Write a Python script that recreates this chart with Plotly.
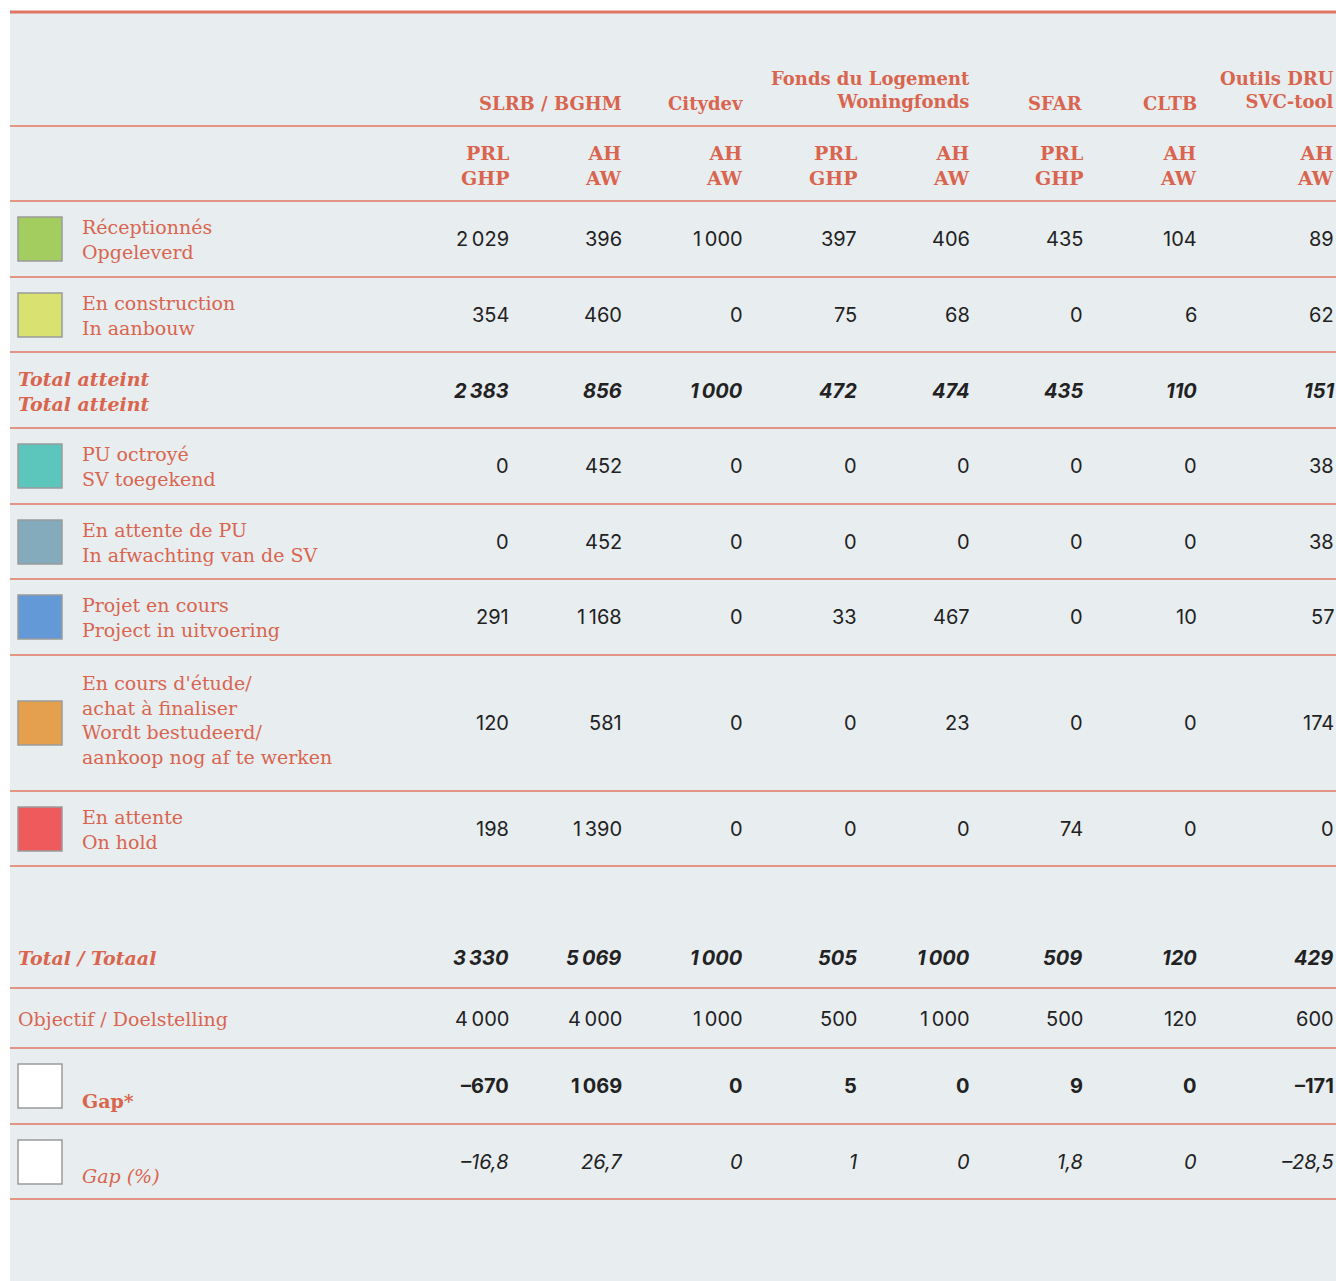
import plotly.graph_objects as go

# ---------------- data ----------------
group_labels = ["SLRB / BGHM", "Citydev", "Fonds du Logement<br>Woningfonds", "SFAR", "CLTB", "Outils DRU<br>SVC-tool"]
group_last_col = [1, 2, 4, 5, 6, 7]  # index of the right-most sub column of each group
sub_labels = ["PRL<br>GHP", "AH<br>AW", "AH<br>AW", "PRL<br>GHP", "AH<br>AW", "PRL<br>GHP", "AH<br>AW", "AH<br>AW"]

receptionnes = [2029, 396, 1000, 397, 406, 435, 104, 89]
construction = [354, 460, 0, 75, 68, 0, 6, 62]
total_atteint = [2383, 856, 1000, 472, 474, 435, 110, 151]
pu_octroye = [0, 452, 0, 0, 0, 0, 0, 38]
attente_pu = [0, 452, 0, 0, 0, 0, 0, 38]
projet_cours = [291, 1168, 0, 33, 467, 0, 10, 57]
etude = [120, 581, 0, 0, 23, 0, 0, 174]
on_hold = [198, 1390, 0, 0, 0, 74, 0, 0]
total = [3330, 5069, 1000, 505, 1000, 509, 120, 429]
objectif = [4000, 4000, 1000, 500, 1000, 500, 120, 600]
gap = [-670, 1069, 0, 5, 0, 9, 0, -171]
gap_pct = [-16.8, 26.7, 0, 1, 0, 1.8, 0, -28.5]

row_labels = [
    "Réceptionnés<br>Opgeleverd",
    "En construction<br>In aanbouw",
    "Total atteint<br>Total atteint",
    "PU octroyé<br>SV toegekend",
    "En attente de PU<br>In afwachting van de SV",
    "Projet en cours<br>Project in uitvoering",
    "En cours d'étude/<br>achat à finaliser<br>Wordt bestudeerd/<br>aankoop nog af te werken",
    "En attente<br>On hold",
    "Total / Totaal",
    "Objectif / Doelstelling",
    "Gap*",
    "Gap (%)",
]
row_values = [receptionnes, construction, total_atteint, pu_octroye, attente_pu,
              projet_cours, etude, on_hold, total, objectif, gap, gap_pct]
row_kind = ["plain", "plain", "total", "plain", "plain", "plain", "plain", "plain",
            "total", "obj", "gap", "gappct"]
row_swatch = ["#a3cd5e", "#d9e270", None, "#5cc5bc", "#83abbb", "#6399d6", "#e4a04d",
              "#ef5a5c", None, None, "#ffffff", "#ffffff"]

# ---------------- layout constants ----------------
W, H = 1336, 1281
ACCENT = "#d9654f"
LINE = "#e07662"
NUM = "#222222"
BG = "#e8edf0"
SERIF = "DejaVu Serif"
SANS = "Inter"

col_x = [511, 624, 745, 859, 972, 1085, 1199, 1336]
row_y = [239, 315, 391, 466, 542, 617, 723, 829, 958, 1019, 1086, 1162]
label_y = [239, 315, 391, 466, 542, 617, 720, 829, 958, 1019, 1101, 1176]
hlines = [126, 201, 277, 352, 428, 504, 579, 655, 791, 866, 988, 1048, 1124, 1199]


def fmt_int(v):
    s = f"{abs(int(v)):,}".replace(",", "\u2009")
    return ("–" if v < 0 else "") + s


def fmt_pct(v):
    s = f"{abs(v):g}".replace(".", ",")
    return ("–" if v < 0 else "") + s


fig = go.Figure()
shapes = []
annotations = []

# background panel
shapes.append(dict(type="rect", xref="x", yref="y", x0=10, x1=W, y0=12, y1=H,
                   fillcolor=BG, line=dict(width=0), layer="below"))
# top rule
shapes.append(dict(type="line", xref="x", yref="y", x0=10, x1=W, y0=12, y1=12,
                   line=dict(color=LINE, width=3)))
for y in hlines:
    shapes.append(dict(type="line", xref="x", yref="y", x0=10, x1=W, y0=y, y1=y,
                       line=dict(color=LINE, width=1.5)))

# group headers
for lab, ci in zip(group_labels, group_last_col):
    two = "<br>" in lab
    annotations.append(dict(x=col_x[ci], y=90 if two else 103, xref="x", yref="y",
                            text=f"<b>{lab}</b>", showarrow=False, xanchor="right",
                            yanchor="middle", align="right",
                            font=dict(family=SERIF, size=18, color=ACCENT)))
# sub headers
for lab, x in zip(sub_labels, col_x):
    annotations.append(dict(x=x, y=165, xref="x", yref="y", text=f"<b>{lab}</b>",
                            showarrow=False, xanchor="right", yanchor="middle", align="right",
                            font=dict(family=SERIF, size=19, color=ACCENT)))

# rows
for lab, vals, kind, sw, yv, yl in zip(row_labels, row_values, row_kind, row_swatch, row_y, label_y):
    if sw is not None:
        sy = yv
        shapes.append(dict(type="rect", xref="x", yref="y", x0=18, x1=62, y0=sy - 22, y1=sy + 22,
                           fillcolor=sw, line=dict(color="#9a9a9a", width=1.5)))
        lx = 80
    else:
        lx = 16
    if kind == "total":
        ltxt = f"<b><i>{lab}</i></b>"
    elif kind == "gap":
        ltxt = f"<b>{lab}</b>"
    elif kind == "gappct":
        ltxt = f"<i>{lab}</i>"
    else:
        ltxt = lab
    annotations.append(dict(x=lx, y=yl, xref="x", yref="y", text=ltxt, showarrow=False,
                            xanchor="left", yanchor="middle", align="left",
                            font=dict(family=SERIF, size=19, color=ACCENT)))
    for v, x in zip(vals, col_x):
        if kind == "gappct":
            t = f"<i>{fmt_pct(v)}</i>"
        elif kind == "total":
            t = f"<b><i>{fmt_int(v)}</i></b>"
        elif kind == "gap":
            t = f"<b>{fmt_int(v)}</b>"
        else:
            t = fmt_int(v)
        annotations.append(dict(x=x, y=yv, xref="x", yref="y", text=t, showarrow=False,
                                xanchor="right", yanchor="middle", align="right",
                                font=dict(family=SANS, size=20, color=NUM)))

fig.update_layout(
    width=W, height=H,
    margin=dict(l=0, r=0, t=0, b=0),
    paper_bgcolor="white", plot_bgcolor="white",
    xaxis=dict(range=[0, W], visible=False, fixedrange=True),
    yaxis=dict(range=[H, 0], visible=False, fixedrange=True),
    shapes=shapes, annotations=annotations, showlegend=False,
)

fig.write_html("out.html", config={"displayModeBar": False},
               post_script="document.body.style.margin='0';document.body.style.overflow='hidden';")
